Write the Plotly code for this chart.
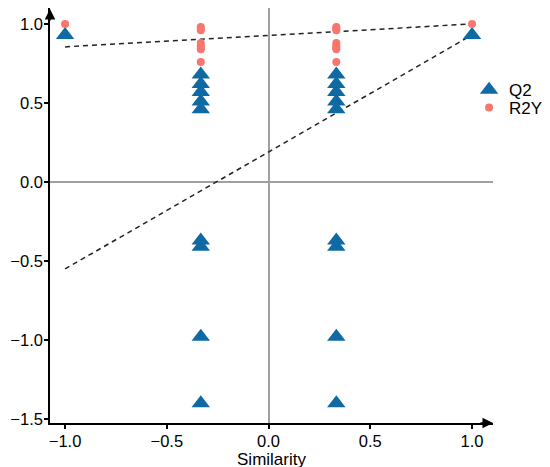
import plotly.graph_objects as go

# permutation test values
q2_sim = [-1.0,
          -0.333, -0.333, -0.333, -0.333, -0.333, -0.333, -0.333, -0.333, -0.333,
          0.333, 0.333, 0.333, 0.333, 0.333, 0.333, 0.333, 0.333, 0.333,
          1.0]
q2_val = [0.93,
          0.68, 0.62, 0.57, 0.51, 0.46, -0.37, -0.41, -0.98, -1.40,
          0.68, 0.62, 0.57, 0.51, 0.46, -0.37, -0.41, -0.98, -1.40,
          0.93]
r2y_sim = [-1.0,
           -0.333, -0.333, -0.333, -0.333, -0.333, -0.333, -0.333, -0.333,
           0.333, 0.333, 0.333, 0.333, 0.333, 0.333, 0.333, 0.333,
           1.0]
r2y_val = [1.0,
           0.98, 0.97, 0.96, 0.88, 0.86, 0.85, 0.84, 0.76,
           0.98, 0.97, 0.96, 0.88, 0.86, 0.85, 0.84, 0.76,
           1.0]

# fitted regression lines (end points)
fit_x = [-1.0, 1.0]
r2y_fit = [0.855, 1.0]
q2_fit = [-0.55, 0.93]

blue = '#0F69A3'
salmon = '#F8766D'
font = 'Liberation Sans, Arial, sans-serif'

fig = go.Figure()
fig.add_trace(go.Scatter(x=fit_x, y=r2y_fit, mode='lines', showlegend=False,
                         line=dict(color='#222222', width=1.5, dash='5px,4px')))
fig.add_trace(go.Scatter(x=fit_x, y=q2_fit, mode='lines', showlegend=False,
                         line=dict(color='#222222', width=1.5, dash='5px,4px')))
fig.add_trace(go.Scatter(x=q2_sim, y=q2_val, mode='markers', name='Q2',
                         marker=dict(symbol='triangle-up', size=16, color=blue)))
fig.add_trace(go.Scatter(x=r2y_sim, y=r2y_val, mode='markers', name='R2Y', legend='legend2',
                         marker=dict(symbol='circle', size=8, color=salmon)))

axis_common = dict(showgrid=False, showline=True, linecolor='black', linewidth=1.5,
                   ticks='outside', ticklen=4, tickwidth=1.5, tickcolor='black',
                   zeroline=True, zerolinecolor='#A0A0A0', zerolinewidth=1.5,
                   ticklabelstandoff=-2,
                   tickfont=dict(size=16.5, color='black', family=font), tickformat='.1f')

fig.update_xaxes(range=[-1.074, 1.103], tickvals=[-1.0, -0.5, 0.0, 0.5, 1.0],
                 title=dict(text='Similarity', font=dict(size=17, color='black', family=font),
                            standoff=0),
                 **axis_common)
fig.update_yaxes(range=[-1.525, 1.101], tickvals=[-1.5, -1.0, -0.5, 0.0, 0.5, 1.0],
                 **axis_common)

# arrow heads on the axes
fig.add_annotation(xref='paper', yref='paper', x=0, y=1, ax=0, ay=14, text='',
                   showarrow=True, arrowhead=2, arrowsize=1.4, arrowwidth=1.5,
                   arrowcolor='black')
fig.add_annotation(xref='paper', yref='paper', x=1, y=0, ax=-14, ay=0, text='',
                   showarrow=True, arrowhead=2, arrowsize=1.4, arrowwidth=1.5,
                   arrowcolor='black')

# the page adds an 8px body margin, so margins are shifted to compensate
leg = dict(xanchor='left', yanchor='middle', font=dict(size=17),
           bgcolor='rgba(0,0,0,0)')
fig.update_layout(
    width=550, height=467,
    margin=dict(l=42, r=65, t=0, b=52, autoexpand=False),
    plot_bgcolor='white', paper_bgcolor='white',
    font=dict(family=font, size=17, color='black'),
    legend=dict(x=0.946, y=0.802, **leg),
    legend2=dict(x=0.946, y=0.759, **leg),
)

fig.write_html("out.html")
